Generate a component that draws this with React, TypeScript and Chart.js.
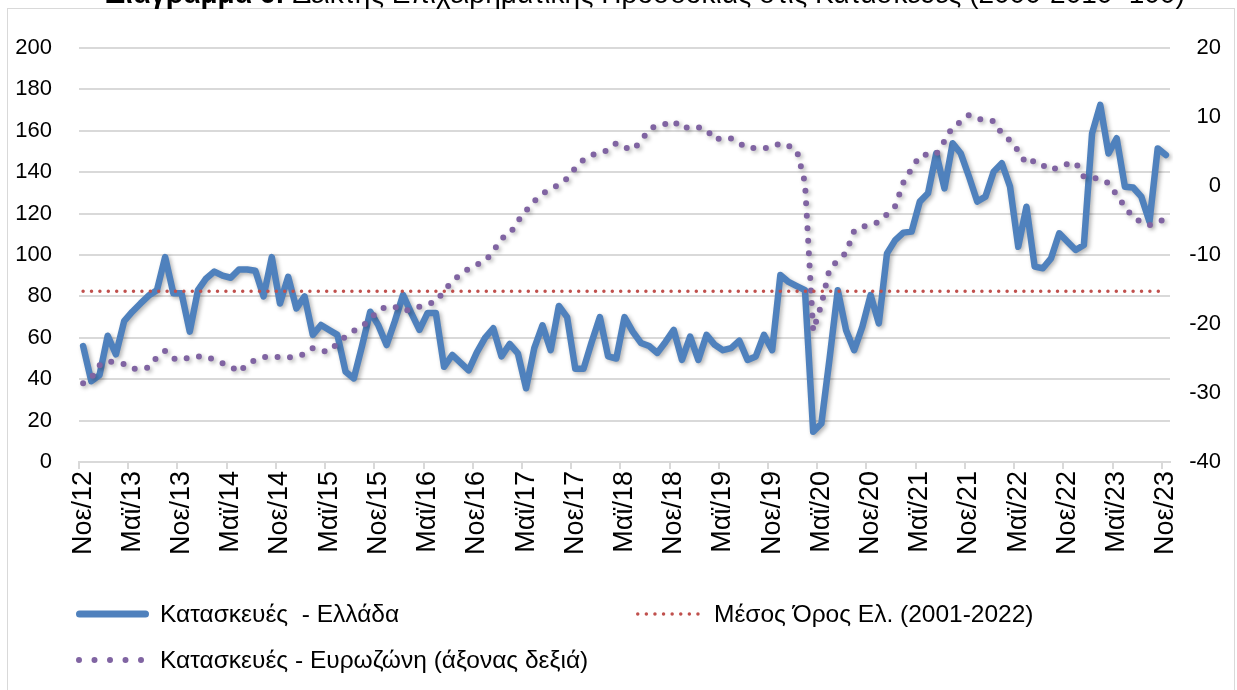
import React, { useEffect, useRef } from "react";
import { Chart, registerables } from "chart.js";

Chart.register(...registerables);

const MONTH_NAMES = ["Ιαν", "Φεβ", "Μαρ", "Απρ", "Μαϊ", "Ιουν", "Ιουλ", "Αυγ", "Σεπ", "Οκτ", "Νοε", "Δεκ"];
const START_YEAR = 2012;
const START_MONTH = 10; // Νοε
const N_MONTHS = 133;
const TICK_EVERY = 6;

const CATEGORIES: string[] = [];
for (let i = 0; i < N_MONTHS; i++) {
  const m = (START_MONTH + i) % 12;
  const y = START_YEAR + Math.floor((START_MONTH + i) / 12);
  CATEGORIES.push(`${MONTH_NAMES[m]}/${String(y).slice(2)}`);
}

// Κατασκευές - Ελλάδα (left axis)
const GREECE = [
  56, 39, 42, 61, 52, 68, 72.6, 76.6, 80.4, 83, 99, 81.5,
  81.5, 63, 83, 88.7, 92, 90, 89, 93, 93, 92.4, 80, 99,
  76.6, 89.5, 74.2, 80, 61.4, 66.2, 63.8, 61.4, 43.6, 40.4, 56, 72.6,
  66, 56.5, 68, 80.7, 72, 63.8, 72, 72, 46, 51.7, 48, 44.3,
  53, 60, 64.6, 51, 57, 52.5, 35.6, 55, 66, 54, 75.4, 70,
  45, 45, 58, 70, 51, 50, 70, 63, 57.5, 56, 52.7, 58,
  63.8, 49.3, 60.6, 49.3, 61.4, 56.6, 54, 55, 58.6, 49.3, 51, 61.4,
  54, 90.3, 87, 85, 83, 14.6, 18.6, 50, 83, 63.8, 54, 65.4,
  80.7, 67, 100.8, 107.2, 110.8, 111.3, 125.8, 129.8, 149.1, 132.2, 154, 149,
  137.8, 125.8, 128.2, 140.2, 144.3, 133, 104, 123.3, 94.4, 93.6, 98.4, 110.5,
  106.4, 102.4, 104.8, 158.8, 172.5, 149, 156.4, 133, 132.6, 128.2, 116.1, 151.5,
  148.3,
];

// Κατασκευές - Ευρωζώνη (right axis)
const EUROZONE = [
  -28.6, -27.8, -26, -25.4, -25.6, -25.8, -26.5, -26.5, -26.3, -24.8, -23.9, -25,
  -25.2, -24.8, -24.7, -24.7, -25.2, -25.7, -26.1, -27, -25.8, -25.2, -24.8, -24.7,
  -24.8, -24.9, -24.6, -24.4, -23.5, -23.9, -24, -22.8, -21.8, -21, -20.4, -19.3,
  -18, -17.5, -17.5, -18.1, -17.9, -17.5, -17.1, -16.8, -15.2, -13.8, -12.8, -12,
  -11.4, -10.9, -9.5, -7.6, -7, -5.1, -3.6, -2.2, -1.1, -0.5, 0.2, 1.1,
  2.6, 3.8, 4.5, 4.8, 5.2, 6.2, 5.6, 5.2, 6.5, 8.2, 8.8, 9,
  9.4, 8.3, 8.6, 8.5, 8.2, 6.7, 7, 6.9, 6.2, 5.5, 5.5, 5.5,
  5.6, 6.2, 5.8, 5.2, 0.5, -21, -17.2, -12, -10.8, -9.7, -6.5, -5.9,
  -5.6, -5.2, -4.1, -2.9, 0.5, 2.5, 4.4, 4.6, 4.6, 6.5, 8.6, 9.3,
  10.3, 9.8, 9.5, 9.4, 7.6, 6.6, 5.1, 3.2, 3.7, 3, 2.3, 2.8,
  3.2, 3.4, 1.3, 1.2, 1, 0.4, -1.3, -3, -4.6, -5.2, -5.7, -5.2,
  -4.8,
];

// Μέσος Όρος Ελ. (2001-2022)
const MEAN_GR = 82.5;

const LEFT_MIN = 0, LEFT_MAX = 200, LEFT_STEP = 20;
const RIGHT_MIN = -40, RIGHT_MAX = 20, RIGHT_STEP = 10;

const TITLE_BOLD = "Διάγραμμα 6:";
const TITLE_REST = " Δείκτης Επιχειρηματικής Προσδοκίας στις Κατασκευές (2000-2010=100)";
const LABEL_GR = "Κατασκευές  - Ελλάδα";
const LABEL_MEAN = "Μέσος Όρος Ελ. (2001-2022)";
const LABEL_EZ = "Κατασκευές - Ευρωζώνη (άξονας δεξιά)";

const BLUE = "#4f81bd";
const RED = "#c0504d";
const PURPLE = "#8064a2";
const GRID = "#d9d9d9";
const FONT = "'Liberation Sans', Arial, sans-serif";

const W = 1237;
const H = 690;

const shadowPlugin = {
  id: "lineShadow",
  beforeDatasetDraw(chart: any, args: any) {
    const ds = chart.data.datasets[args.index];
    if (!ds.shadow) return;
    const ctx = chart.ctx;
    ctx.save();
    ctx.shadowColor = "rgba(0,0,0,0.3)";
    ctx.shadowBlur = 4;
    ctx.shadowOffsetX = 2;
    ctx.shadowOffsetY = 2;
  },
  afterDatasetDraw(chart: any, args: any) {
    const ds = chart.data.datasets[args.index];
    if (!ds.shadow) return;
    chart.ctx.restore();
  },
};

// white background, frame and the (top-clipped) title
const framePlugin = {
  id: "frameTitle",
  beforeDraw(chart: any) {
    const ctx = chart.ctx;
    ctx.save();
    ctx.fillStyle = "#fff";
    ctx.fillRect(0, 0, chart.width, chart.height);
    ctx.strokeStyle = GRID;
    ctx.lineWidth = 1;
    ctx.strokeRect(7.5, 8.5, 1227, 700);
    // title, fitted to the span of the original (x 105 … 1185)
    ctx.fillStyle = "#000";
    ctx.textBaseline = "alphabetic";
    const base = 24;
    ctx.font = `bold ${base}px ${FONT}`;
    const wb0 = ctx.measureText(TITLE_BOLD).width;
    ctx.font = `${base}px ${FONT}`;
    const wr0 = ctx.measureText(TITLE_REST).width;
    const size = (base * 1080) / (wb0 + wr0);
    ctx.font = `bold ${size}px ${FONT}`;
    const wb = ctx.measureText(TITLE_BOLD).width;
    ctx.font = `${size}px ${FONT}`;
    const wr = ctx.measureText(TITLE_REST).width;
    const x0 = 645 - (wb + wr) / 2;
    ctx.font = `bold ${size}px ${FONT}`;
    ctx.fillText(TITLE_BOLD, x0, 3);
    ctx.font = `${size}px ${FONT}`;
    ctx.fillText(TITLE_REST, x0 + wb, 3);
    ctx.restore();
  },
};

export default function App() {
  const ref = useRef<HTMLCanvasElement | null>(null);

  useEffect(() => {
    if (!ref.current) return;
    const meanData = CATEGORIES.map(() => MEAN_GR);
    const chart = new Chart(ref.current, {
      type: "line",
      data: {
        labels: CATEGORIES,
        datasets: [
          {
            label: LABEL_MEAN,
            data: meanData,
            borderColor: RED,
            borderWidth: 3.5,
            borderDash: [0, 8.4],
            borderCapStyle: "round",
            pointRadius: 0,
            yAxisID: "y",
            order: 0,
          } as any,
          {
            label: LABEL_EZ,
            data: EUROZONE,
            borderColor: PURPLE,
            borderWidth: 6,
            borderDash: [0, 12.5],
            borderCapStyle: "round",
            borderJoinStyle: "round",
            pointRadius: 0,
            yAxisID: "y1",
            order: 1,
            shadow: true,
          } as any,
          {
            label: LABEL_GR,
            data: GREECE,
            borderColor: BLUE,
            borderWidth: 6.5,
            borderCapStyle: "round",
            borderJoinStyle: "round",
            pointRadius: 0,
            yAxisID: "y",
            order: 2,
            shadow: true,
          } as any,
        ],
      },
      options: {
        animation: false,
        responsive: false,
        devicePixelRatio: 1,
        layout: { padding: { left: 9, right: 16, top: 48, bottom: 0 } },
        plugins: { legend: { display: false }, title: { display: false }, tooltip: { enabled: false } },
        scales: {
          x: {
            type: "category",
            offset: true,
            grid: {
              offset: true,
              drawOnChartArea: false,
              drawTicks: true,
              tickLength: 7,
              lineWidth: 2,
              color: (ctx: any) => (ctx.index % TICK_EVERY === 0 ? GRID : "rgba(0,0,0,0)"),
            },
            border: { display: true, color: GRID, width: 2 },
            ticks: {
              autoSkip: false,
              maxRotation: 90,
              minRotation: 90,
              padding: 2,
              color: "#000",
              font: { family: FONT, size: 27 },
              callback: (_v: any, i: number) => (i % TICK_EVERY === 0 ? CATEGORIES[i] : ""),
            },
            afterFit: (s: any) => {
              s.height = H - 462;
            },
          },
          y: {
            position: "left",
            min: LEFT_MIN,
            max: LEFT_MAX,
            ticks: { stepSize: LEFT_STEP, padding: 27, color: "#000", font: { family: FONT, size: 22 } },
            grid: { color: GRID, lineWidth: 2, drawTicks: false },
            border: { display: false },
            afterFit: (s: any) => {
              s.width = 70;
            },
          },
          y1: {
            position: "right",
            min: RIGHT_MIN,
            max: RIGHT_MAX,
            ticks: { stepSize: RIGHT_STEP, crossAlign: "far", color: "#000", font: { family: FONT, size: 22 } },
            grid: { drawOnChartArea: false, drawTicks: false },
            border: { display: false },
            afterFit: (s: any) => {
              s.width = 51;
            },
          },
        },
      } as any,
      plugins: [framePlugin, shadowPlugin],
    });
    return () => chart.destroy();
  }, []);

  const textStyle: React.CSSProperties = { fontFamily: FONT, fontSize: 24.5, color: "#000", whiteSpace: "pre" };
  const item = (top: number, left: number): React.CSSProperties => ({
    position: "absolute",
    top: top - 16,
    left,
    height: 32,
    display: "flex",
    alignItems: "center",
  });

  return (
    <div style={{ position: "fixed", top: 0, left: 0, width: W, height: H, overflow: "hidden", background: "#fff" }}>
      <canvas ref={ref} width={W} height={H} style={{ display: "block" }} />
      <div style={item(614, 76)}>
        <svg width={73} height={8} style={{ marginRight: 11 }}>
          <line x1={3.5} y1={4} x2={69.5} y2={4} stroke={BLUE} strokeWidth={7} strokeLinecap="round" />
        </svg>
        <span style={textStyle}>{LABEL_GR}</span>
      </div>
      <div style={item(614, 636)}>
        <svg width={72} height={6} style={{ marginRight: 6 }}>
          <line x1={1.75} y1={3} x2={70.5} y2={3} stroke={RED} strokeWidth={3.5} strokeLinecap="round" strokeDasharray="0 8.6" />
        </svg>
        <span style={textStyle}>{LABEL_MEAN}</span>
      </div>
      <div style={item(660, 76)}>
        <svg width={73} height={8} style={{ marginRight: 11 }}>
          <line x1={3} y1={4} x2={70} y2={4} stroke={PURPLE} strokeWidth={6} strokeLinecap="round" strokeDasharray="0 15.5" />
        </svg>
        <span style={textStyle}>{LABEL_EZ}</span>
      </div>
    </div>
  );
}
